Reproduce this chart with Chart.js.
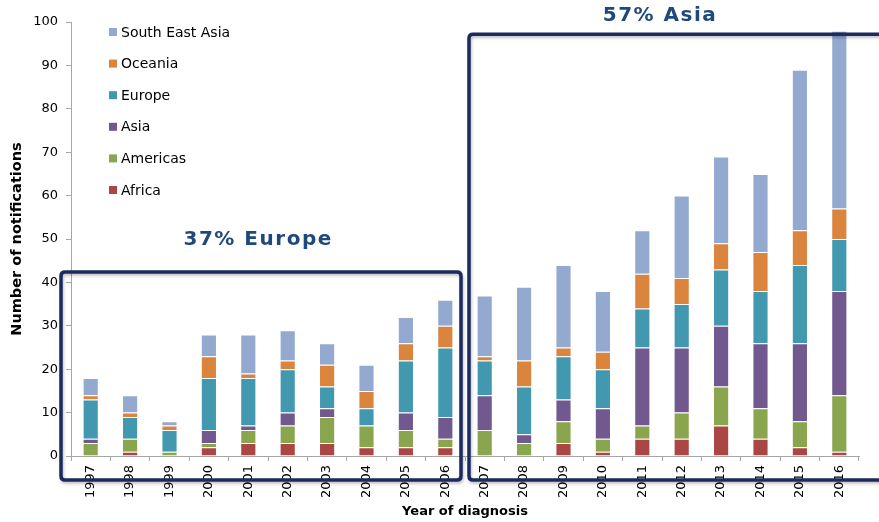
<!DOCTYPE html>
<html>
<head>
<meta charset="utf-8">
<script src="https://cdn.jsdelivr.net/npm/chart.js@4"></script>
<style>
  html, body { margin: 0; padding: 0; background: #fff; }
</style>
</head>
<body>
<canvas id="chart" width="879" height="522"></canvas>
<script>
// ---------------------------------------------------------------
// Data — notifications by region of origin, per year of diagnosis
// ---------------------------------------------------------------
const years    = ["1997","1998","1999","2000","2001","2002","2003","2004","2005","2006",
                  "2007","2008","2009","2010","2011","2012","2013","2014","2015","2016"];
const africa   = [0, 1, 0, 2, 3, 3, 3, 2, 2, 2,   0, 0, 3, 1, 4, 4, 7, 4, 2, 1];
const americas = [3, 3, 1, 1, 3, 4, 6, 5, 4, 2,   6, 3, 5, 3, 3, 6, 9, 7, 6, 13];
const asia     = [1, 0, 0, 3, 1, 3, 2, 0, 4, 5,   8, 2, 5, 7, 18, 15, 14, 15, 18, 24];
const europe   = [9, 5, 5, 12, 11, 10, 5, 4, 12, 16,  8, 11, 10, 9, 9, 10, 13, 12, 18, 12];
const oceania  = [1, 1, 1, 5, 1, 2, 5, 4, 4, 5,   1, 6, 2, 4, 8, 6, 6, 9, 8, 7];
const seAsia   = [4, 4, 1, 5, 9, 7, 5, 6, 6, 6,   14, 17, 19, 14, 10, 19, 20, 18, 37, 41];

const yTicks = [0, 10, 20, 30, 40, 50, 60, 70, 80, 90, 100];

// Period highlight boxes: first/last category index, top value, label
const periods = [
  { from: 0,  to: 9,  top: 42.4, label: "37% Europe", labelAt: 4.25,  labelY: 49.8 },
  { from: 10, to: 19, top: 97.2, label: "57% Asia",   labelAt: 14.45, labelY: 101.4 },
];

const FONT = "'DejaVu Sans', Verdana, sans-serif";
const NAVY = "#1C2B5F";
const AXIS = "#A6A6A6";

function series(label, data, color) {
  return {
    label, data,
    backgroundColor: color,
    borderColor: "rgba(255,255,255,0.55)",
    borderWidth: 1,
    barPercentage: 0.41,
    categoryPercentage: 1.0,
  };
}

// ---------------------------------------------------------------
// Legend drawn inside the plot area (top-left), top entry = last stack
// ---------------------------------------------------------------
const insideLegend = {
  id: "insideLegend",
  afterDraw(chart) {
    const { ctx, chartArea } = chart;
    const sets = chart.data.datasets.slice().reverse();
    ctx.save();
    ctx.font = "14px " + FONT;
    ctx.textBaseline = "middle";
    sets.forEach((ds, i) => {
      const y = chartArea.top + 10 + i * 31.6;
      const x = chartArea.left + 38;
      ctx.fillStyle = ds.backgroundColor;
      ctx.fillRect(x, y - 4, 8, 8);
      ctx.fillStyle = "#000";
      ctx.fillText(ds.label, x + 12, y + 1);
    });
    ctx.restore();
  },
};

// ---------------------------------------------------------------
// Navy rounded boxes around the two periods, plus their labels
// ---------------------------------------------------------------
function roundRect(ctx, x, y, w, h, r) {
  ctx.beginPath();
  ctx.moveTo(x + r, y);
  ctx.lineTo(x + w - r, y);
  ctx.quadraticCurveTo(x + w, y, x + w, y + r);
  ctx.lineTo(x + w, y + h - r);
  ctx.quadraticCurveTo(x + w, y + h, x + w - r, y + h);
  ctx.lineTo(x + r, y + h);
  ctx.quadraticCurveTo(x, y + h, x, y + h - r);
  ctx.lineTo(x, y + r);
  ctx.quadraticCurveTo(x, y, x + r, y);
  ctx.closePath();
}

const periodBoxes = {
  id: "periodBoxes",
  afterDatasetsDraw(chart) {
    const { ctx, scales: { x, y } } = chart;
    const half = (x.getPixelForValue(1) - x.getPixelForValue(0)) / 2;
    ctx.save();
    periods.forEach((p, i) => {
      let left  = x.getPixelForValue(p.from) - half + (i === 0 ? -10 : 4);
      let right = x.getPixelForValue(p.to) + half + (i === 0 ? -4 : 40);
      const top = y.getPixelForValue(p.top);
      const bottom = y.getPixelForValue(0) + 24;
      ctx.shadowColor = "rgba(0,0,0,0.25)";
      ctx.shadowBlur = 3;
      ctx.shadowOffsetX = 1;
      ctx.shadowOffsetY = 2;
      ctx.strokeStyle = NAVY;
      ctx.lineWidth = 3.5;
      roundRect(ctx, left, top, right - left, bottom - top, 4);
      ctx.stroke();

      ctx.shadowColor = "transparent";
      ctx.fillStyle = "#1F497D";
      ctx.font = "bold 20px " + FONT;
      ctx.letterSpacing = "1.5px";
      ctx.textAlign = "center";
      ctx.textBaseline = "middle";
      ctx.fillText(p.label, x.getPixelForValue(p.labelAt), y.getPixelForValue(p.labelY));
      ctx.letterSpacing = "0px";
    });
    ctx.restore();
  },
};

new Chart(document.getElementById("chart").getContext("2d"), {
  type: "bar",
  data: {
    labels: years,
    datasets: [
      series("Africa",          africa,   "#AA4643"),
      series("Americas",        americas, "#89A54E"),
      series("Asia",            asia,     "#71588F"),
      series("Europe",          europe,   "#4198AF"),
      series("Oceania",         oceania,  "#DB843D"),
      series("South East Asia", seAsia,   "#93A9CF"),
    ],
  },
  options: {
    responsive: false,
    animation: false,
    devicePixelRatio: 1,
    layout: { padding: { top: 22, right: 20, left: 0, bottom: 0 } },
    plugins: {
      legend: { display: false },
      tooltip: { enabled: false },
    },
    scales: {
      x: {
        stacked: true,
        grid: {
          drawOnChartArea: false, drawTicks: true, tickLength: 5,
          color: AXIS, offset: true,
        },
        border: { color: AXIS },
        ticks: {
          autoSkip: false, minRotation: 90, maxRotation: 90,
          padding: 4, color: "#000", font: { family: FONT, size: 13 },
        },
        title: {
          display: true, text: "Year of diagnosis", color: "#000",
          font: { family: FONT, size: 13, weight: "bold" },
          padding: { top: 0, bottom: 3 },
        },
        afterFit: (s) => { s.height = 66; },
      },
      y: {
        stacked: true,
        min: yTicks[0],
        max: yTicks[yTicks.length - 1],
        afterBuildTicks: (s) => { s.ticks = yTicks.map(v => ({ value: v })); },
        grid: { drawOnChartArea: false, drawTicks: true, tickLength: 5, color: AXIS },
        border: { color: AXIS },
        ticks: { padding: 8, color: "#000", font: { family: FONT, size: 13 } },
        title: {
          display: true, text: "Number of notifications", color: "#000",
          font: { family: FONT, size: 14.5, weight: "bold" },
          padding: { top: 9, bottom: 0 },
        },
        afterFit: (s) => { s.width = 71; },
      },
    },
  },
  plugins: [periodBoxes, insideLegend],
});
</script>
</body>
</html>
